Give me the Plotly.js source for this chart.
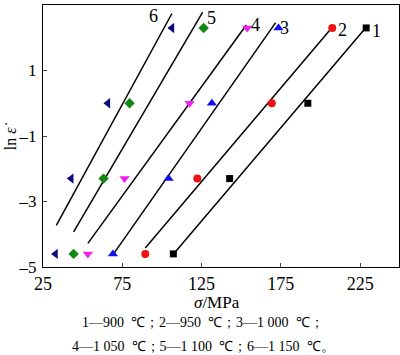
<!DOCTYPE html>
<html><head><meta charset="utf-8">
<script src="https://cdn.plot.ly/plotly-3.0.1.min.js"></script>
<style>body{margin:0;background:#fff}#c{width:400px;height:355px}</style>
</head><body><div id="c"></div>
<script>
const lnRate = [-4.6, -2.3, 0, 2.3];
const s1 = [107.2, 142.7, 192.0, 228.8];
const s2 = [89.5, 122.3, 169.3, 207.4];
const s3 = [69.1, 104.2, 131.5, 173.5];
const s4 = [53.3, 76.4, 117.4, 153.8];
const s5 = [44.3, 63.2, 79.6, 126.3];
const s6 = [32.9, 42.8, 65.9, 106.3];
const seriesNames = ['1', '2', '3', '4', '5', '6'];
// fitted line endpoints
const lineXStart = [107.3, 89.5, 69.5, 53.3, 44.3, 33.4];
const lineYStart = [-4.6, -4.42, -4.6, -4.28, -3.93, -3.73];
const lineXEnd = [228.8, 207.4, 171.7, 153.2, 125.7, 106.3];
const lineYEnd = [2.32, 2.32, 2.46, 2.39, 2.78, 2.74];
const labelX = [235.5, 214, 177.5, 159, 131, 94.5];
const labelY = [2.2, 2.25, 2.3, 2.4, 2.6, 2.65];
const xTicks = [25, 75, 125, 175, 225];
const yTicks = [3, 1, -1, -3, -5];
const yTickText = ['3', '1', '\u20131', '\u20133', '\u20135'];
const captionLines = ['1—900  ℃；2—950  ℃；3—1 000  ℃；', '4—1 050  ℃；5—1 100  ℃；6—1 150  ℃。'];

const SERIF = '"Liberation Serif", "Times New Roman", serif';
const seriesX = [s1, s2, s3, s4, s5, s6];
const colors = ['#000000', '#ee1111', '#1010ee', '#ee22ee', '#118811', '#0c0c80'];
const symbols = ['square', 'circle', 'triangle-up', 'triangle-down', 'diamond', 'triangle-left'];
const sizes = [7, 8, 9, 9, 8, 9];

const traces = [];
for (let i = 0; i < 6; i++) {
  traces.push({x: [lineXStart[i], lineXEnd[i]], y: [lineYStart[i], lineYEnd[i]], mode: 'lines',
    line: {color: '#000', width: 1.5}, showlegend: false, hoverinfo: 'skip'});
}
for (let i = 0; i < 6; i++) {
  traces.push({x: seriesX[i], y: lnRate, mode: 'markers', name: seriesNames[i],
    marker: {color: colors[i], symbol: symbols[i], size: sizes[i], line: {width: 0}}, showlegend: false});
}
const annotations = seriesNames.map((n, i) => ({x: labelX[i], y: labelY[i], text: n, showarrow: false,
  font: {size: 18, color: '#000', family: SERIF}, xanchor: 'center', yanchor: 'middle'}));
annotations.push({xref: 'paper', yref: 'paper', x: 0.49, y: -0.134, yanchor: 'middle', showarrow: false,
  text: '<i>σ</i>/MPa', font: {size: 17, family: SERIF, color: '#000'}});
annotations.push({xref: 'paper', yref: 'paper', x: 0.45, y: -0.21, yanchor: 'middle', showarrow: false,
  text: captionLines[0], font: {size: 14, family: SERIF, color: '#000'}});
annotations.push({xref: 'paper', yref: 'paper', x: 0.45, y: -0.305, yanchor: 'middle', showarrow: false,
  text: captionLines[1], font: {size: 14, family: SERIF, color: '#000'}});
annotations.push({xref: 'paper', yref: 'paper', x: -0.092, y: 0.5, xanchor: 'center', yanchor: 'middle', textangle: -90, showarrow: false,
  text: 'ln <i>ε̇</i>', font: {size: 16, family: SERIF, color: '#000'}});

const layout = {
  width: 400, height: 355,
  margin: {l: 43, r: 1, t: 5, b: 88},
  paper_bgcolor: '#fff', plot_bgcolor: '#fff',
  font: {family: SERIF, size: 17, color: '#000'},
  xaxis: {range: [25, 249.5], tickvals: xTicks, ticktext: xTicks.map(String), ticks: 'inside', ticklen: 4,
    tickfont: {family: SERIF, size: 18}, showline: true, mirror: true, linecolor: '#000', linewidth: 1, showgrid: false, zeroline: false},
  yaxis: {range: [-5, 3], tickvals: yTicks, ticktext: yTickText, ticks: 'inside', ticklen: 4, ticklabelstandoff: 2,
    tickfont: {family: SERIF, size: 17}, showline: true, mirror: true, linecolor: '#000', linewidth: 1, showgrid: false, zeroline: false},
  annotations: annotations
};
Plotly.newPlot('c', traces, layout, {staticPlot: true});
</script></body></html>
